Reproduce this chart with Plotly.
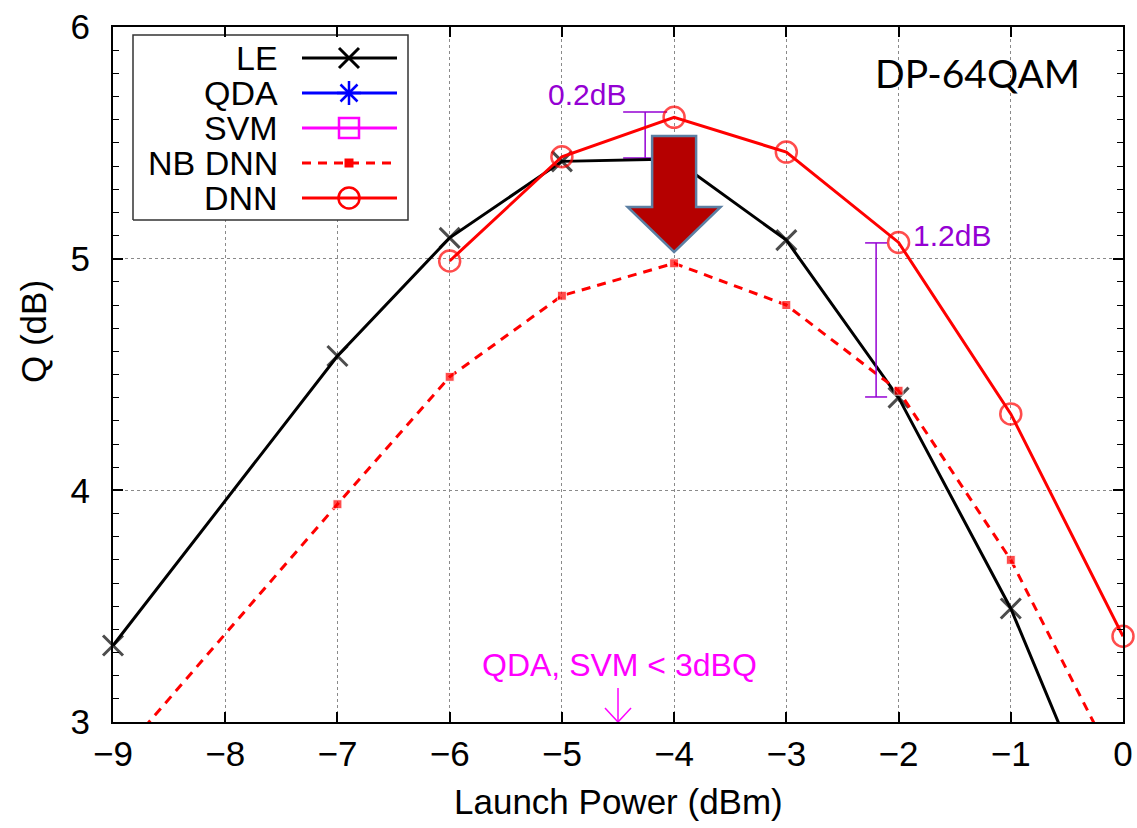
import plotly.graph_objects as go

# ---------------- data ----------------
x_le = [-9, -7, -6, -5, -4, -3, -2, -1, 0]
q_le = [3.33, 4.58, 5.09, 5.42, 5.43, 5.08, 4.40, 3.49, 2.33]

x_nb = [-9, -7, -6, -5, -4, -3, -2, -1, 0]
q_nb = [2.82, 3.94, 4.49, 4.84, 4.98, 4.80, 4.43, 3.70, 2.75]

x_dnn = [-6, -5, -4, -3, -2, -1, 0]
q_dnn = [4.99, 5.44, 5.61, 5.46, 5.07, 4.33, 3.37]

legend_names = ["LE", "QDA", "SVM", "NB DNN", "DNN"]
x_ticks = [-9, -8, -7, -6, -5, -4, -3, -2, -1, 0]
y_ticks = [3, 4, 5, 6]

X_RANGE = [-9, 0]
Y_RANGE = [3, 6]

FONT = "Liberation Sans, Arial, Helvetica, sans-serif"
PURPLE = "#9400D3"
MAGENTA = "#FF00FF"
RED = "#FF0000"
BLUE = "#0000FF"

FIG_W, FIG_H = 1137, 828
# plot area in window pixels
PLOT_L, PLOT_R, PLOT_T, PLOT_B = 113, 1123, 27, 722

fig = go.Figure()


def sizes(q, s):
    return [s if v >= Y_RANGE[0] else 0 for v in q]


# ---------------- data traces ----------------
fig.add_trace(go.Scatter(
    x=x_le, y=q_le, mode="lines+markers", cliponaxis=False,
    line=dict(color="black", width=3),
    marker=dict(symbol="x-thin-open", size=sizes(q_le, 20), color="black",
                line=dict(color="black", width=3)),
))
fig.add_trace(go.Scatter(
    x=x_nb, y=q_nb, mode="lines+markers", cliponaxis=False,
    line=dict(color=RED, width=3, dash="9px,7px"),
    marker=dict(symbol="square", size=sizes(q_nb, 9), color=RED),
))
fig.add_trace(go.Scatter(
    x=x_dnn, y=q_dnn, mode="lines+markers", cliponaxis=False,
    line=dict(color=RED, width=3),
    marker=dict(symbol="circle-open", size=sizes(q_dnn, 21), color=RED,
                line=dict(color=RED, width=2.5)),
))

# ---------------- custom gnuplot-like legend (overlay axes in 0..1) -----


def fx(px):
    return (px - PLOT_L) / (PLOT_R - PLOT_L)


def fy(py):
    return (PLOT_B - py) / (PLOT_B - PLOT_T)


box_l, box_r, box_t, box_b = fx(133), fx(408), fy(35), fy(220)
fig.add_trace(go.Scatter(
    x=[box_l, box_r, box_r, box_l, box_l],
    y=[box_b, box_b, box_t, box_t, box_b],
    xaxis="x2", yaxis="y2", mode="lines", fill="toself",
    fillcolor="white", line=dict(color="#333333", width=1.5),
    hoverinfo="skip",
))

rows_py = [58, 93, 128, 163, 198]
styles = [
    dict(line=dict(color="black", width=3),
         marker=dict(symbol="x-thin-open", size=20, color="black",
                     line=dict(color="black", width=3))),
    dict(line=dict(color=BLUE, width=3),
         marker=dict(symbol="asterisk-open", size=20, color=BLUE,
                     line=dict(color=BLUE, width=2.5))),
    dict(line=dict(color=MAGENTA, width=3),
         marker=dict(symbol="square-open", size=20, color=MAGENTA,
                     line=dict(color=MAGENTA, width=2.5))),
    dict(line=dict(color=RED, width=3, dash="9px,7px"),
         marker=dict(symbol="square", size=9, color=RED)),
    dict(line=dict(color=RED, width=3),
         marker=dict(symbol="circle-open", size=21, color=RED,
                     line=dict(color=RED, width=2.5))),
]
sl, sm, sr = fx(302), fx(349), fx(397)
for name, py, st in zip(legend_names, rows_py, styles):
    yy = fy(py)
    fig.add_trace(go.Scatter(
        x=[sl, sr], y=[yy, yy], xaxis="x2", yaxis="y2", mode="lines",
        line=st["line"], hoverinfo="skip"))
    fig.add_trace(go.Scatter(
        x=[sm], y=[yy], xaxis="x2", yaxis="y2", mode="markers",
        marker=st["marker"], hoverinfo="skip", cliponaxis=False))
    fig.add_annotation(x=fx(279), y=yy, xref="paper", yref="paper",
                       text=name, showarrow=False, xanchor="right",
                       yanchor="middle", borderpad=0,
                       font=dict(family=FONT, size=34, color="black"))

# ---------------- annotations ----------------
# big down arrow at -4
ax_c = -4
shaft_hw, head_hw = 0.196, 0.414
a_top, a_base, a_tip = 5.53, 5.223, 5.029
path = (f"M {ax_c - shaft_hw} {a_top} L {ax_c + shaft_hw} {a_top} "
        f"L {ax_c + shaft_hw} {a_base} L {ax_c + head_hw} {a_base} "
        f"L {ax_c} {a_tip} L {ax_c - head_hw} {a_base} "
        f"L {ax_c - shaft_hw} {a_base} Z")
fig.add_shape(type="path", path=path, xref="x", yref="y",
              fillcolor="#B50000", line=dict(color="#5B7FA3", width=2.5),
              layer="above")

# 0.2 dB bracket
b1_x, b1_lo, b1_hi, b1_hw = -4.258, 5.435, 5.633, 0.196
fig.add_shape(type="line", x0=b1_x, x1=b1_x, y0=b1_lo, y1=b1_hi,
              line=dict(color=PURPLE, width=1.5), layer="below")
for yv in (b1_lo, b1_hi):
    fig.add_shape(type="line", x0=b1_x - b1_hw, x1=b1_x + b1_hw, y0=yv, y1=yv,
                  line=dict(color=PURPLE, width=1.5), layer="below")
fig.add_annotation(x=-4.776, y=5.707, text="0.2dB", showarrow=False,
                   xanchor="center", yanchor="middle",
                   font=dict(family=FONT, size=30, color=PURPLE))

# 1.2 dB bracket
b2_x, b2_lo, b2_hi, b2_hw = -2.20, 4.403, 5.068, 0.098
fig.add_shape(type="line", x0=b2_x, x1=b2_x, y0=b2_lo, y1=b2_hi,
              line=dict(color=PURPLE, width=1.5))
for yv in (b2_lo, b2_hi):
    fig.add_shape(type="line", x0=b2_x - b2_hw, x1=b2_x + b2_hw, y0=yv, y1=yv,
                  line=dict(color=PURPLE, width=1.5))
fig.add_annotation(x=-1.522, y=5.102, text="1.2dB", showarrow=False,
                   xanchor="center", yanchor="middle",
                   font=dict(family=FONT, size=30, color=PURPLE))

# QDA, SVM note with small arrow
fig.add_annotation(x=-4.49, y=3.246, text="QDA, SVM < 3dBQ", showarrow=False,
                   xanchor="center", yanchor="middle",
                   font=dict(family=FONT, size=32, color=MAGENTA))
n_x, n_top = -4.5, 3.147
fig.add_shape(type="line", x0=n_x, x1=n_x, y0=n_top, y1=3.0,
              line=dict(color=MAGENTA, width=1.5))
for s in (-1, 1):
    fig.add_shape(type="line", x0=n_x + s * 0.116, x1=n_x, y0=3.06, y1=3.0,
                  line=dict(color=MAGENTA, width=1.5))

fig.add_annotation(x=-1.30, y=5.80, text="DP-64QAM", showarrow=False,
                   xanchor="center", yanchor="middle",
                   font=dict(family="Lato, Open Sans, sans-serif", size=39,
                             color="black"))

# axis titles
fig.add_annotation(x=0.5, y=fy(801), xref="paper", yref="paper",
                   text="Launch Power (dBm)", showarrow=False,
                   xanchor="center", yanchor="middle", borderpad=0,
                   font=dict(family=FONT, size=35, color="black"))
fig.add_annotation(x=fx(33), y=fy(332), xref="paper", yref="paper",
                   text="Q (dB)", showarrow=False, textangle=-90,
                   xanchor="center", yanchor="middle",
                   font=dict(family=FONT, size=35, color="black"))

# ---------------- layout ----------------
axis_common = dict(
    showline=True, linecolor="black", linewidth=2, mirror="allticks",
    ticks="inside", ticklen=10, tickwidth=1.5, tickcolor="black",
    showgrid=True, gridcolor="#8a8a8a", griddash="dot", gridwidth=1,
    zeroline=False, ticklabeloverflow="allow", automargin=False,
    tickfont=dict(family=FONT, size=35, color="black"),
)
fig.update_layout(
    width=FIG_W, height=FIG_H,
    margin=dict(l=PLOT_L, r=FIG_W - PLOT_R, t=PLOT_T, b=FIG_H - PLOT_B,
                autoexpand=False),
    paper_bgcolor="white", plot_bgcolor="white", showlegend=False,
    font=dict(family=FONT, color="black"),
    xaxis=dict(range=X_RANGE, tickvals=x_ticks, ticklabelstandoff=0,
               **axis_common),
    yaxis=dict(range=Y_RANGE, tickvals=y_ticks, ticklabelstandoff=14,
               minor=dict(dtick=0.1, ticks="inside", ticklen=6,
                          tickcolor="black", tickwidth=1.2, showgrid=False),
               **axis_common),
    xaxis2=dict(range=[0, 1], overlaying="x", visible=False, fixedrange=True),
    yaxis2=dict(range=[0, 1], overlaying="y", visible=False, fixedrange=True),
)

fig.write_html(
    "out.html",
    config={"displayModeBar": False},
    post_script="document.body.style.margin='0';"
                "document.body.style.overflow='hidden';",
)
